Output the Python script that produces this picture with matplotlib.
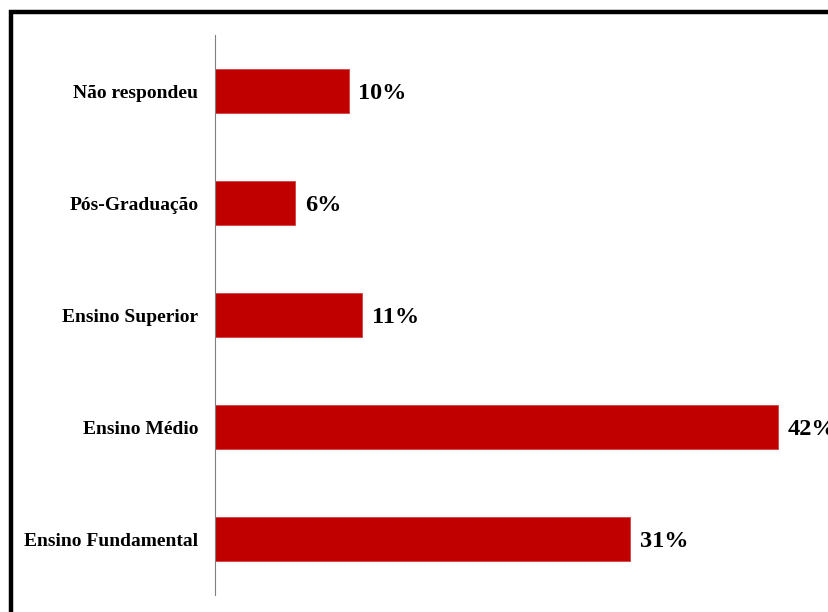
import matplotlib.pyplot as plt
from matplotlib.patches import Rectangle

# dados
categorias = ["Ensino Fundamental", "Ensino Médio", "Ensino Superior", "Pós-Graduação", "Não respondeu"]
valores = [31, 42, 11, 6, 10]
rotulos = ["31%", "42%", "11%", "6%", "10%"]

plt.rcParams['font.family'] = ['Liberation Serif', 'DejaVu Serif']

fig = plt.figure(figsize=(8.29, 6.12), dpi=100)
W, H = 829, 612

# moldura preta (cortada na direita e embaixo)
fig.patches.append(Rectangle((11 / W, -0.1), 1.2, 1 - 12 / H + 0.1, transform=fig.transFigure,
                             fill=False, edgecolor='black', linewidth=3.2, zorder=5))

ax = fig.add_axes([215 / W, (H - 595) / H, (W - 215) / W, 560 / H])
ax.barh(range(len(categorias)), valores, height=0.39, color='#c00000', edgecolor='#d04040', linewidth=0.6)
ax.set_xlim(0, 614 / 13.4)
ax.set_ylim(-0.5, len(categorias) - 0.5)

for i, (v, r) in enumerate(zip(valores, rotulos)):
    ax.text(v + 0.7, i - 0.02, r, va='center', ha='left', fontsize=17.5, fontweight='bold', clip_on=False)

ax.set_yticks(range(len(categorias)))
ax.set_yticklabels(categorias, fontsize=14, fontweight='bold')
ax.tick_params(axis='y', length=0, pad=12)
ax.set_xticks([])
for s in ['top', 'right', 'bottom']:
    ax.spines[s].set_visible(False)
ax.spines['left'].set_color('#808080')
ax.spines['left'].set_linewidth(0.8)

fig.savefig("out.png", dpi=100)
